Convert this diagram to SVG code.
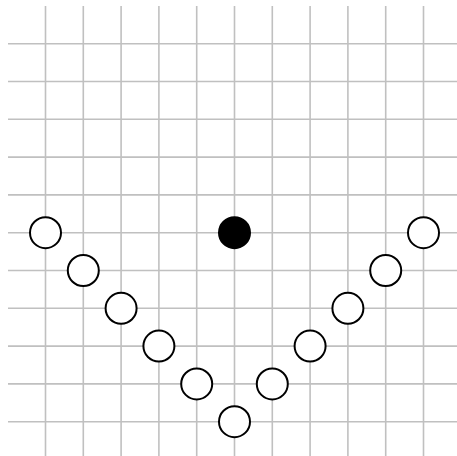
<svg xmlns="http://www.w3.org/2000/svg" width="457" height="456" viewBox="0 0 457 456">
<style>
.g{stroke:#c0c0c0;stroke-width:1.6;fill:none}
.o{fill:#fff;stroke:#000;stroke-width:2}
.b{fill:#000;stroke:#000;stroke-width:2}
</style>
<rect width="457" height="456" fill="#fff"/>
<g id="grid" class="g">
<path d="M45.5 6V456M83.3 6V456M121.1 6V456M158.9 6V456M196.7 6V456M234.5 6V456M272.3 6V456M310.1 6V456M347.9 6V456M385.7 6V456M423.5 6V456"/>
<path d="M8 43.7H457M8 81.5H457M8 119.3H457M8 157.1H457M8 194.9H457M8 232.7H457M8 270.5H457M8 308.3H457M8 346.1H457M8 383.9H457M8 421.7H457"/>
</g>
<g id="black"><circle class="b" cx="234.5" cy="232.7" r="15.5"/></g>
<g id="n0"><circle class="o" cx="45.5" cy="232.7" r="15.5"/></g>
<g id="n1"><circle class="o" cx="83.3" cy="270.5" r="15.5"/></g>
<g id="n2"><circle class="o" cx="121.1" cy="308.3" r="15.5"/></g>
<g id="n3"><circle class="o" cx="158.9" cy="346.1" r="15.5"/></g>
<g id="n4"><circle class="o" cx="196.7" cy="383.9" r="15.5"/></g>
<g id="n5"><circle class="o" cx="234.5" cy="421.7" r="15.5"/></g>
<g id="n6"><circle class="o" cx="272.3" cy="383.9" r="15.5"/></g>
<g id="n7"><circle class="o" cx="310.1" cy="346.1" r="15.5"/></g>
<g id="n8"><circle class="o" cx="347.9" cy="308.3" r="15.5"/></g>
<g id="n9"><circle class="o" cx="385.7" cy="270.5" r="15.5"/></g>
<g id="n10"><circle class="o" cx="423.5" cy="232.7" r="15.5"/></g>
</svg>
